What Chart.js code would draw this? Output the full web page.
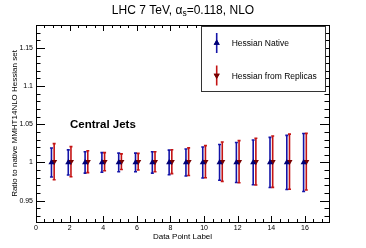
<!DOCTYPE html>
<html>
<head>
<meta charset="utf-8">
<script src="https://cdn.jsdelivr.net/npm/chart.js@4.4.1/dist/chart.umd.min.js"></script>
<style>
html, body { margin: 0; padding: 0; background: #fff; }
#wrap { width: 366px; height: 248px; }
</style>
</head>
<body>
<div id="wrap"><canvas id="ratioChart" width="366" height="248"></canvas></div>
<script>
// chart data
const pointLabels = [1, 2, 3, 4, 5, 6, 7, 8, 9, 10, 11, 12, 13, 14, 15, 16];
const nativeRatio = [1.000, 1.000, 1.000, 1.000, 1.000, 1.000, 1.000, 1.000, 1.000, 1.000, 1.000, 1.000, 1.000, 1.000, 1.000, 1.000];
const nativeErr = [0.019, 0.0164, 0.014, 0.0129, 0.0122, 0.0122, 0.014, 0.0161, 0.0177, 0.0203, 0.0234, 0.0262, 0.0293, 0.0328, 0.0354, 0.038];
const replicaRatio = [1.001, 1.001, 1.001, 1.001, 1.001, 1.001, 1.001, 1.001, 1.001, 1.001, 1.001, 1.001, 1.001, 1.001, 1.001, 1.001];
const replicaErr = [0.0236, 0.0197, 0.0144, 0.0118, 0.0102, 0.0109, 0.0131, 0.0157, 0.0181, 0.021, 0.0258, 0.0276, 0.0306, 0.0337, 0.0361, 0.0371];
const seriesNames = ['Hessian Native', 'Hessian from Replicas'];

const xTickValues = [0, 2, 4, 6, 8, 10, 12, 14, 16];
const xTickLabels = ['0', '2', '4', '6', '8', '10', '12', '14', '16'];
const yTickValues = [0.95, 1, 1.05, 1.1, 1.15];
const yTickLabels = ['0.95', '1', '1.05', '1.1', '1.15'];

const FONT = '"Liberation Sans", Arial, Helvetica, sans-serif';
const BLUE_BAR = '#1414a8';
const RED_BAR = '#c41414';
const BLUE_MARK = '#000078';
const RED_MARK = '#780000';

// Build points, slightly shifted so the two series don't overlap
function buildPoints(values, shift) {
    return pointLabels.map((lbl, i) => ({ x: lbl + shift, y: values[i] }));
}

// Error bars drawn under the markers
const errorBars = {
    id: 'errorBars',
    beforeDatasetsDraw(chart) {
        const { ctx, scales: { x, y } } = chart;
        chart.data.datasets.forEach(ds => {
            ctx.save();
            ctx.strokeStyle = ds.barColor;
            ctx.lineWidth = 1.6;
            ds.data.forEach((p, i) => {
                const px = x.getPixelForValue(p.x);
                const hi = y.getPixelForValue(p.y + ds.errors[i]);
                const lo = y.getPixelForValue(p.y - ds.errors[i]);
                ctx.beginPath();
                ctx.moveTo(px, hi); ctx.lineTo(px, lo);
                ctx.moveTo(px - 1.5, hi); ctx.lineTo(px + 1.5, hi);
                ctx.moveTo(px - 1.5, lo); ctx.lineTo(px + 1.5, lo);
                ctx.stroke();
            });
            ctx.restore();
        });
    }
};

// ROOT-like frame: box, inside ticks, titles, legend box
const rootFrame = {
    id: 'rootFrame',
    afterDraw(chart) {
        const { ctx, chartArea: { left, right, top, bottom }, scales: { x, y } } = chart;
        ctx.save();
        ctx.strokeStyle = '#000';
        ctx.lineWidth = 1;
        ctx.strokeRect(left + 0.5, top + 0.5, right - left, bottom - top);

        ctx.beginPath();
        // x ticks (major every 2, minor every 0.5)
        for (let v = 0; v <= x.max; v += 0.5) {
            const px = Math.round(x.getPixelForValue(v)) + 0.5;
            const len = xTickValues.includes(v) ? 6 : 3;
            ctx.moveTo(px, bottom); ctx.lineTo(px, bottom - len);
            ctx.moveTo(px, top); ctx.lineTo(px, top + len);
        }
        // y ticks (major every 0.05, minor every 0.01)
        for (let k = 93; k <= 117; k++) {
            const v = k / 100;
            const py = Math.round(y.getPixelForValue(v)) + 0.5;
            const len = (k % 5 === 0) ? 9 : 4.5;
            ctx.moveTo(left, py); ctx.lineTo(left + len, py);
            ctx.moveTo(right, py); ctx.lineTo(right - len, py);
        }
        ctx.stroke();

        // title with subscript
        ctx.fillStyle = '#000';
        ctx.textBaseline = 'alphabetic';
        const big = '12px ' + FONT;
        const small = '8.5px ' + FONT;
        const p1 = 'LHC 7 TeV, \u03b1', p2 = 's', p3 = '=0.118, NLO';
        ctx.font = big;
        const w1 = ctx.measureText(p1).width, w3 = ctx.measureText(p3).width;
        ctx.font = small;
        const w2 = ctx.measureText(p2).width;
        let tx = 183 - (w1 + w2 + w3) / 2;
        ctx.font = big; ctx.textAlign = 'left';
        ctx.fillText(p1, tx, 13.5); tx += w1;
        ctx.font = small; ctx.fillText(p2, tx, 16); tx += w2;
        ctx.font = big; ctx.fillText(p3, tx, 13.5);

        // axis titles
        ctx.font = '8px ' + FONT;
        ctx.textAlign = 'center';
        ctx.fillText('Data Point Label', (left + right) / 2, 238.5);
        ctx.save();
        ctx.translate(17.3, (top + bottom) / 2);
        ctx.rotate(-Math.PI / 2);
        ctx.fillText('Ratio to native MMHT14NLO Hessian set', 0, 0);
        ctx.restore();

        // label
        ctx.font = 'bold 11.5px ' + FONT;
        ctx.textAlign = 'left';
        ctx.fillText('Central Jets', 70, 128);

        // legend
        ctx.fillStyle = '#fff';
        ctx.fillRect(202, 27, 123, 64);
        ctx.strokeStyle = '#333';
        ctx.strokeRect(201.5, 26.5, 124, 65);
        const rows = [
            { name: seriesNames[0], cy: 43, bar: BLUE_BAR, mark: BLUE_MARK, rot: 0 },
            { name: seriesNames[1], cy: 75.5, bar: RED_BAR, mark: RED_MARK, rot: 180 }
        ];
        rows.forEach(r => {
            ctx.strokeStyle = r.bar;
            ctx.lineWidth = 1.6;
            ctx.beginPath();
            ctx.moveTo(216.7, r.cy - 10); ctx.lineTo(216.7, r.cy + 10);
            ctx.stroke();
            ctx.fillStyle = r.mark;
            Chart.helpers.drawPoint(ctx, { pointStyle: 'triangle', radius: 3.5, rotation: r.rot, borderWidth: 0 }, 216.7, r.cy);
            ctx.fill();
            ctx.fillStyle = '#000';
            ctx.font = '8.5px ' + FONT;
            ctx.fillText(r.name, 231.7, r.cy + 3);
        });
        ctx.restore();
    }
};

new Chart(document.getElementById('ratioChart').getContext('2d'), {
    type: 'scatter',
    data: {
        datasets: [
            {
                label: seriesNames[0],
                data: buildPoints(nativeRatio, -0.08),
                errors: nativeErr,
                barColor: BLUE_BAR,
                pointStyle: 'triangle',
                pointRadius: 3.5,
                pointBackgroundColor: BLUE_MARK,
                pointBorderColor: BLUE_MARK,
                pointBorderWidth: 0
            },
            {
                label: seriesNames[1],
                data: buildPoints(replicaRatio, 0.08),
                errors: replicaErr,
                barColor: RED_BAR,
                pointStyle: 'triangle',
                rotation: 180,
                pointRadius: 3.5,
                pointBackgroundColor: RED_MARK,
                pointBorderColor: RED_MARK,
                pointBorderWidth: 0
            }
        ]
    },
    options: {
        responsive: false,
        animation: false,
        events: [],
        layout: { padding: { top: 25, right: 37, left: 0, bottom: 0 } },
        plugins: {
            legend: { display: false },
            tooltip: { enabled: false },
            title: { display: false }
        },
        scales: {
            x: {
                type: 'linear',
                min: 0,
                max: 17.43,
                grid: { display: false, drawTicks: false },
                border: { display: false },
                afterBuildTicks: s => { s.ticks = xTickValues.map(v => ({ value: v })); },
                afterFit: s => { s.height = 26; },
                ticks: {
                    font: { family: FONT, size: 7 },
                    color: '#000',
                    padding: 2,
                    maxRotation: 0,
                    autoSkip: false,
                    callback: v => xTickLabels[xTickValues.indexOf(v)]
                }
            },
            y: {
                type: 'linear',
                min: 0.922,
                max: 1.18,
                grid: { display: false, drawTicks: false },
                border: { display: false },
                afterBuildTicks: s => { s.ticks = yTickValues.map(v => ({ value: v })); },
                afterFit: s => { s.width = 36; },
                ticks: {
                    font: { family: FONT, size: 7 },
                    color: '#000',
                    padding: 3,
                    autoSkip: false,
                    callback: v => yTickLabels[yTickValues.indexOf(v)]
                }
            }
        }
    },
    plugins: [errorBars, rootFrame]
});
</script>
</body>
</html>
